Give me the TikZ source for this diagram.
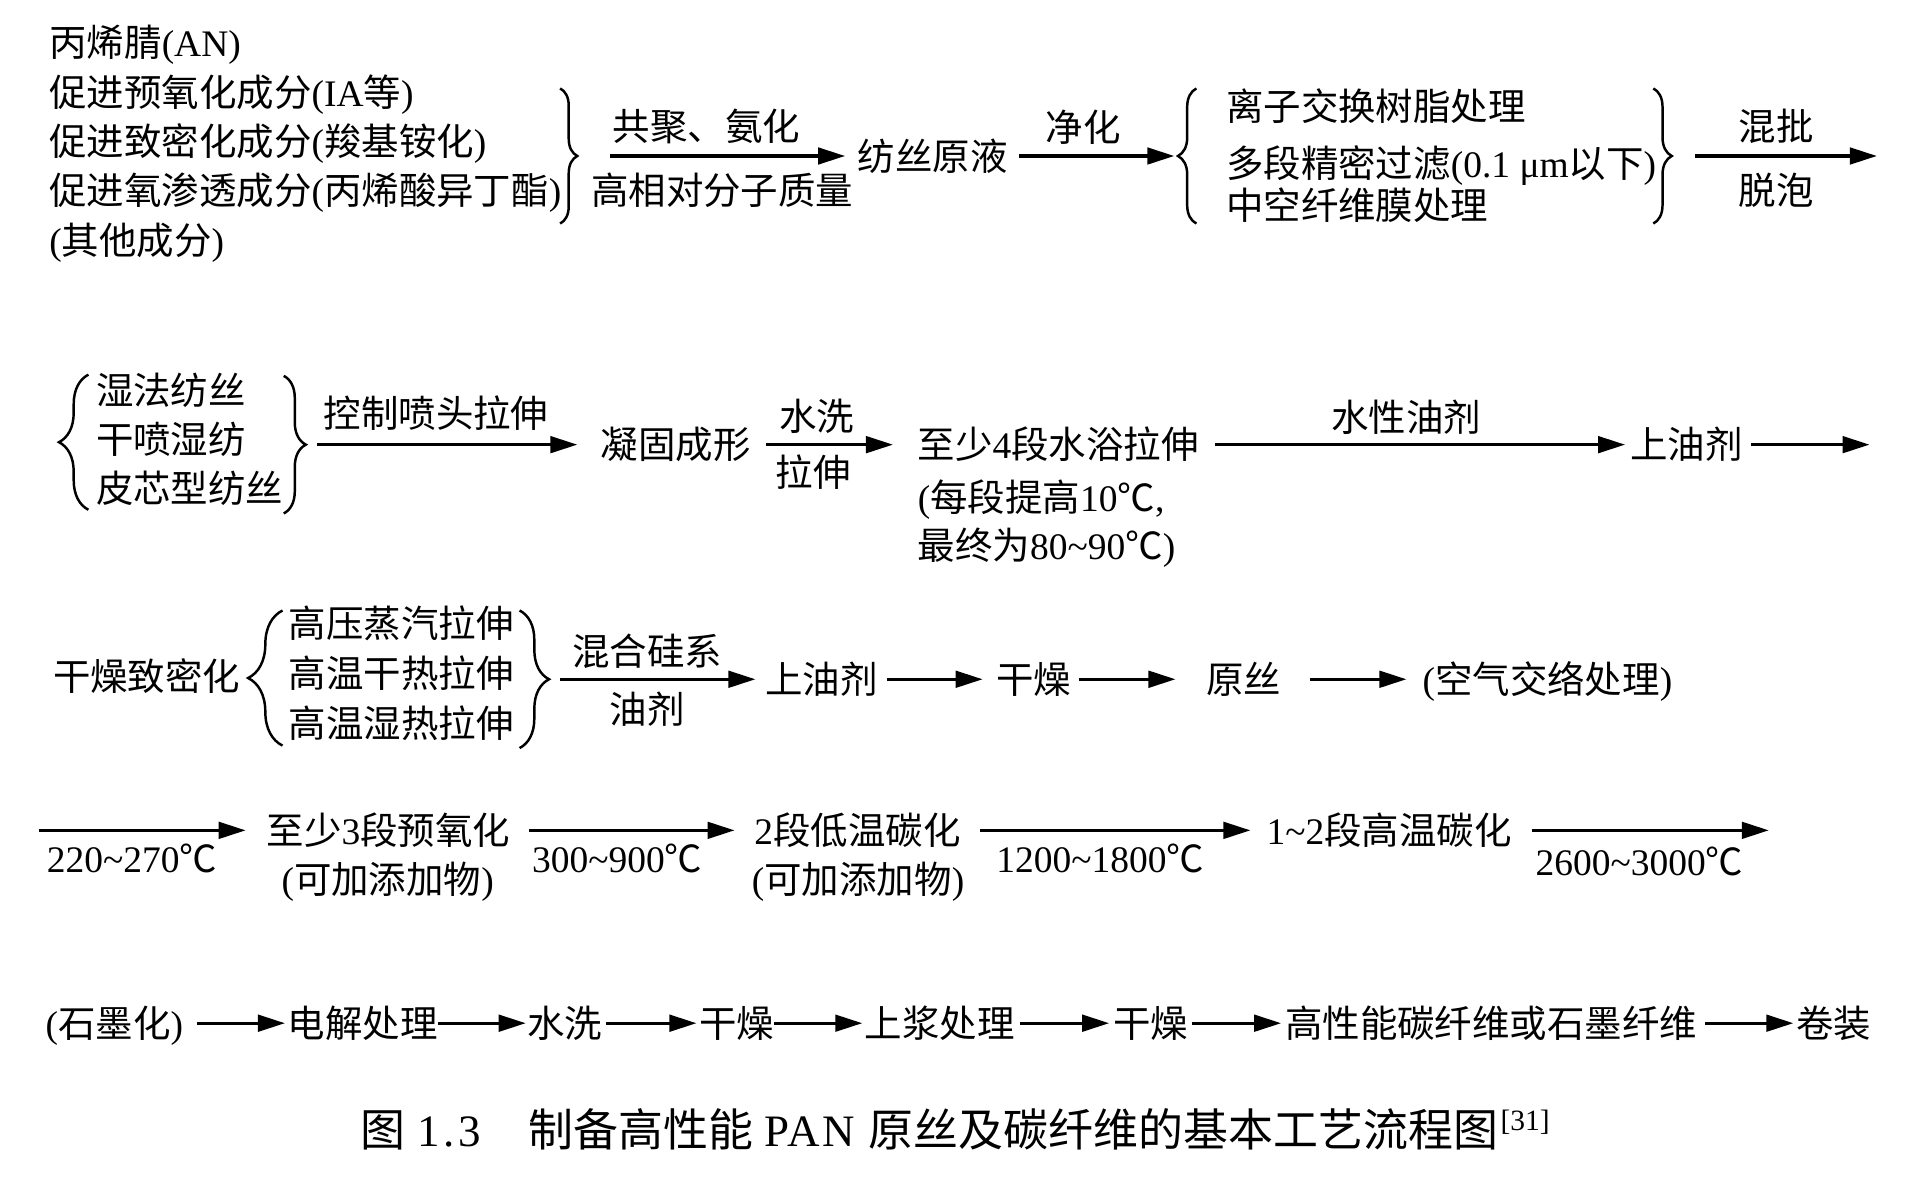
\documentclass[tikz,border=0pt]{standalone}
\usepackage{fontspec}
\setmainfont{Noto Sans CJK SC}
\newfontfamily\lat{Liberation Serif}
\usetikzlibrary{arrows.meta,decorations.pathreplacing}
\newcommand\Lt[1]{{\lat #1}}
\newcommand\fs{\fontsize{30.5}{40}\selectfont}
\newcommand\capfs{\fontsize{36.6}{44}\selectfont}
\newcommand\tl{\textasciitilde}
\tikzset{
 txt/.style={inner sep=0pt, anchor=west, text height=26pt, text depth=3.2pt, font=\fs},
 lbl/.style={txt, anchor=center},
 arr/.style={line width=2.5pt, -{Triangle[length=22pt,width=13.5pt]}},
 brc/.style={decorate, decoration={brace, amplitude=#1}, line width=2pt},
 brc/.default=14pt,
}
\begin{document}
\begin{tikzpicture}[x=1pt,y=-1pt]
\fill[white] (0,0) rectangle (1568,966);
\useasboundingbox (0,0) rectangle (1568,966);
% ---------- Row 1
\node[txt] (r1a) at (40,35) {丙烯腈\Lt{(AN)}};
\node[txt] (r1b) at (40,75) {促进预氧化成分\Lt{(IA}等\Lt{)}};
\node[txt] (r1c) at (40,115) {促进致密化成分\Lt{(}羧基铵化\Lt{)}};
\node[txt] (r1d) at (40,155) {促进氧渗透成分\Lt{(}丙烯酸异丁酯\Lt{)}};
\node[txt] (r1e) at (40,196) {\Lt{(}其他成分\Lt{)}};
\draw[brc=14pt] (456,72) -- (456,182);
\coordinate (b1) at (470,127);
\node[txt] (fsy) at (698,127) {纺丝原液};
\draw[arr, shorten <=27pt, shorten >=10pt] (b1) -- (fsy.west);
\node[lbl] (l1a) at (575,103) {共聚、氨化};
\node[lbl] (l1b) at (588,155) {高相对分子质量};
\draw[brc=15pt] (974,182) -- (974,72);
\coordinate (b2) at (959,127);
\draw[arr, shorten <=9pt, shorten >=3pt] (fsy.east) -- (b2);
\node[lbl] (l1c) at (882,104) {净化};
\node[txt] (p1) at (998,87) {离子交换树脂处理};
\node[txt] (p2) at (998,133) {多段精密过滤\Lt{(0.1 μm}以下\Lt{)}};
\node[txt] (p3) at (998,167) {中空纤维膜处理};
\draw[brc=15pt] (1346,72) -- (1346,182);
\coordinate (b3) at (1361,127);
\coordinate (e1) at (1528,127);
\draw[arr, shorten <=19pt] (b3) -- (e1);
\node[lbl] (l1d) at (1446,103) {混批};
\node[lbl] (l1e) at (1446,155) {脱泡};
% ---------- Row 2
\draw[brc=24pt] (72,415) -- (72,305);
\node[txt] (w1) at (78,318) {湿法纺丝};
\node[txt] (w2) at (78,358) {干喷湿纺};
\node[txt] (w3) at (78,398) {皮芯型纺丝};
\draw[brc=18pt] (231,306) -- (231,418);
\coordinate (b4) at (249,362);
\node[txt] (ng) at (489,362) {凝固成形};
\draw[arr, shorten <=9pt, shorten >=19pt] (b4) -- (ng.west);
\node[lbl] (l2a) at (355,337) {控制喷头拉伸};
\node[txt] (zs) at (747,362) {至少\Lt{4}段水浴拉伸};
\draw[arr, shorten <=12pt, shorten >=20pt] (ng.east) -- (zs.west);
\node[lbl] (l2b) at (665,339) {水洗};
\node[lbl] (l2c) at (662,385) {拉伸};
\node[txt] (zs2) at (747,405) {\Lt{(}每段提高\Lt{10}℃\Lt{,}};
\node[txt] (zs3) at (747,444) {最终为\Lt{80\tl 90}℃\Lt{)}};
\node[txt] (yj1) at (1327,362) {上油剂};
\draw[arr, shorten <=13pt, shorten >=4pt] (zs.east) -- (yj1.west);
\node[lbl] (l2d) at (1145,340) {水性油剂};
\coordinate (e2) at (1522,362);
\draw[arr, shorten <=7pt] (yj1.east) -- (e2);
% ---------- Row 3
\node[txt] (gz) at (43,551) {干燥致密化};
\draw[brc=28pt] (230,607) -- (230,497);
\node[txt] (h1) at (235,508) {高压蒸汽拉伸};
\node[txt] (h2) at (235,548) {高温干热拉伸};
\node[txt] (h3) at (235,589) {高温湿热拉伸};
\draw[brc=24pt] (423,497) -- (423,609);
\coordinate (b6) at (447,553);
\node[txt] (yj2) at (623,553) {上油剂};
\draw[arr, shorten <=9pt, shorten >=8pt] (b6) -- (yj2.west);
\node[lbl] (l3a) at (527,530) {混合硅系};
\node[lbl] (l3b) at (527,578) {油剂};
\node[txt] (gd1) at (811,553) {干燥};
\draw[arr, shorten <=7.5pt, shorten >=11pt] (yj2.east) -- (gd1.west);
\node[txt] (ys) at (982,553) {原丝};
\draw[arr, shorten <=6pt, shorten >=25pt] (gd1.east) -- (ys.west);
\node[txt] (kq) at (1158,553) {\Lt{(}空气交络处理\Lt{)}};
\draw[arr, shorten <=23pt, shorten >=13pt] (ys.east) -- (kq.west);
% ---------- Row 4
\coordinate (s4) at (32,676);
\node[txt] (yy3) at (217,676) {至少\Lt{3}段预氧化};
\draw[arr, shorten >=17pt] (s4) -- (yy3.west);
\node[txt] (t1) at (38,699) {\Lt{220\tl 270}℃};
\node[txt] (yy3b) at (229,716) {\Lt{(}可加添加物\Lt{)}};
\node[txt] (dt) at (614,676) {\Lt{2}段低温碳化};
\draw[arr, shorten <=15pt, shorten >=16pt] (yy3.east) -- (dt.west);
\node[txt] (t2) at (433,699) {\Lt{300\tl 900}℃};
\node[txt] (dtb) at (612,716) {\Lt{(}可加添加物\Lt{)}};
\node[txt] (gt) at (1031,676) {\Lt{1\tl 2}段高温碳化};
\draw[arr, shorten <=16pt, shorten >=13pt] (dt.east) -- (gt.west);
\node[txt] (t3) at (811,699) {\Lt{1200\tl 1800}℃};
\coordinate (e4) at (1440,676);
\draw[arr, shorten <=16pt] (gt.east) -- (e4);
\node[txt] (t4) at (1250,701) {\Lt{2600\tl 3000}℃};
% ---------- Row 5
\node[txt] (sm) at (37,833) {\Lt{(}石墨化\Lt{)}};
\node[txt] (dj) at (234,833) {电解处理};
\node[txt] (sx) at (429,833) {水洗};
\node[txt] (gd2) at (569,833) {干燥};
\node[txt] (sj) at (704,833) {上浆处理};
\node[txt] (gd3) at (906,833) {干燥};
\node[txt] (gx) at (1046,833) {高性能碳纤维或石墨纤维};
\node[txt] (jz) at (1462,833) {卷装};
\draw[arr, shorten <=11.5pt, shorten >=2pt] (sm.east) -- (dj.west);
\draw[arr, shorten <=0pt, shorten >=1pt] (dj.east) -- (sx.west);
\draw[arr, shorten <=3pt, shorten >=2pt] (sx.east) -- (gd2.west);
\draw[arr, shorten <=0pt, shorten >=2pt] (gd2.east) -- (sj.west);
\draw[arr, shorten <=4pt, shorten >=3pt] (sj.east) -- (gd3.west);
\draw[arr, shorten <=3pt, shorten >=3pt] (gd3.east) -- (gx.west);
\draw[arr, shorten <=6.5pt, shorten >=2pt] (gx.east) -- (jz.west);
% ---------- Caption
\node[anchor=base west, inner sep=0pt, font=\capfs] (cap) at (293,933.5) {\makebox[47pt][l]{图}\makebox[90pt][l]{\lat\addfontfeature{LetterSpace=8}1.3}\makebox[192pt][l]{制备高性能}\makebox[85pt][l]{\lat\addfontfeature{LetterSpace=6}PAN}原丝及碳纤维的基本工艺流程图\hspace{2pt}\raisebox{13pt}{\fontsize{24}{26}\selectfont\Lt{[31]}}};
\end{tikzpicture}
\end{document}
